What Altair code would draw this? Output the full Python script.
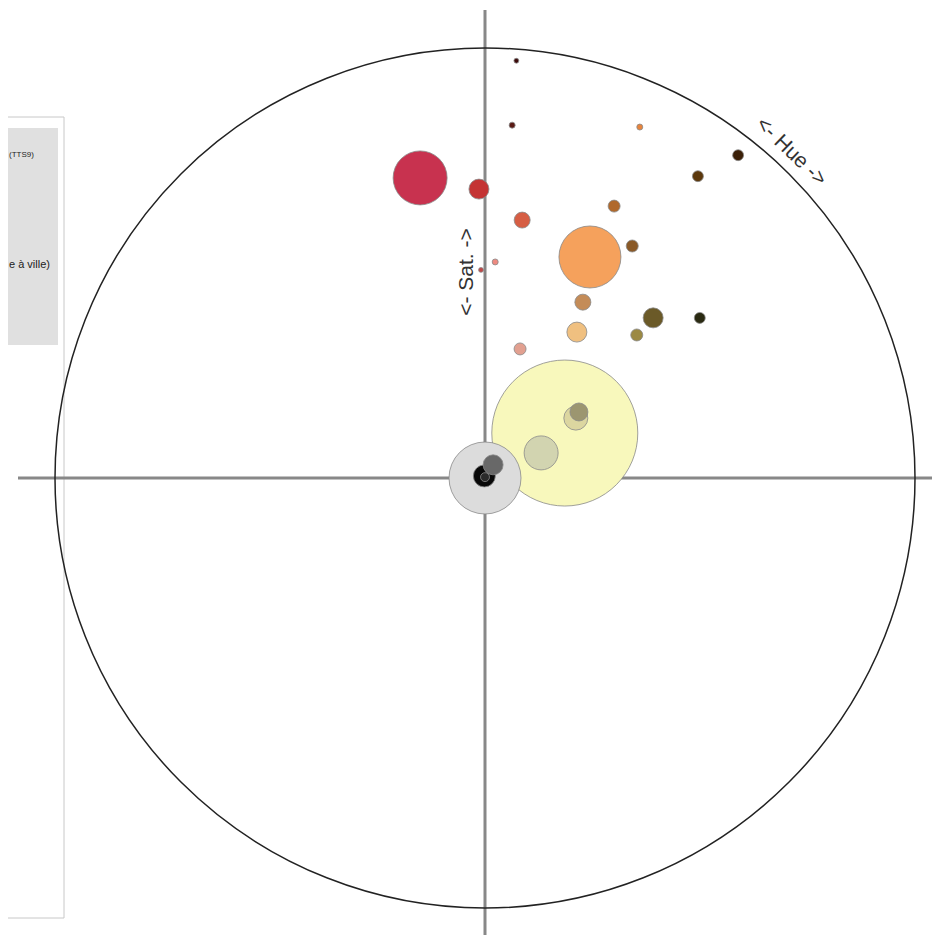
import altair as alt
import numpy as np
import pandas as pd

# ---- data: hue (deg, 0 = top, clockwise), saturation (0..1), count, colour ----
hue = [4.3, 4.4, 23.8, 347.8, 358.8, 38.1, 35.2, 25.4, 8.2, 32.4, 25.4, 2.7, 358.9,
       29.1, 46.4, 53.3, 32.2, 46.7, 15.2, 60.6, 56.6, 54.9, 65.9, 0.0, 31.6, 342.0, 0.0]
sat = [0.973, 0.823, 0.892, 0.714, 0.672, 0.954, 0.859, 0.700, 0.606, 0.639, 0.569, 0.503, 0.484,
       0.468, 0.540, 0.623, 0.401, 0.485, 0.311, 0.213, 0.253, 0.267, 0.143, 0.0, 0.036, 0.005, 0.002]
count = [6, 9, 9, 729, 100, 30, 30, 36, 64, 36, 961, 9, 6,
         64, 100, 30, 100, 36, 36, 5329, 144, 81, 289, 1296, 100, 121, 20]
colors = ["#3c0a0a", "#5a1a14", "#e8843c", "#c8324f", "#c43434", "#3c2008", "#5c380c",
          "#b0692c", "#d65e44", "#8a5a28", "#f5a15c", "#ee8a80", "#c04848", "#c48c58",
          "#6b5a28", "#2a2a12", "#f0c080", "#9c8a44", "#e2a090", "#f8f8bc", "#dcd6a0",
          "#9c9670", "#d2d4b0", "#dcdcdc", "#686868", "#080808", "#2a2a2a"]

legend_texts = ["(TTS9)", "e à ville)"]
axis_labels = ["<- Hue ->", "<- Sat. ->"]

df = pd.DataFrame({"hue": hue, "sat": sat, "count": count, "color": colors})
rad = np.deg2rad(df["hue"])
df["x"] = df["sat"] * np.sin(rad)
df["y"] = df["sat"] * np.cos(rad)
df = df.sort_values("count", ascending=False, kind="stable").reset_index(drop=True)
df["order"] = np.arange(len(df))

W, H = 924, 927
CX, CY, R = 477, 470, 430
xs = alt.Scale(domain=[-CX / R, (W - CX) / R], nice=False, zero=False)
ys = alt.Scale(domain=[-(H - CY) / R, CY / R], nice=False, zero=False)

dummy = pd.DataFrame({"a": [0]})
base = alt.Chart(dummy)

FONT = "Liberation Sans"

panel = base.mark_rect(fill="white", stroke="#c8c8c8", strokeWidth=1).encode(
    x=alt.value(-10), x2=alt.value(56), y=alt.value(109), y2=alt.value(910))
inner = base.mark_rect(fill="#e0e0e0").encode(
    x=alt.value(-10), x2=alt.value(50), y=alt.value(120), y2=alt.value(337))
t1 = base.mark_text(align="left", baseline="middle", fontSize=8, font=FONT, color="#222").encode(
    x=alt.value(1), y=alt.value(147), text=alt.value(legend_texts[0]))
t2 = base.mark_text(align="left", baseline="middle", fontSize=11, font=FONT, color="#222").encode(
    x=alt.value(1), y=alt.value(257), text=alt.value(legend_texts[1]))

hline = base.mark_rule(color="#888888", strokeWidth=3).encode(
    x=alt.value(10), x2=alt.value(W), y=alt.value(CY))
vline = base.mark_rule(color="#888888", strokeWidth=3).encode(
    x=alt.value(CX), y=alt.value(2), y2=alt.value(H))

ring = base.mark_point(shape="circle", filled=False, size=(2 * R) ** 2, stroke="#222222",
                       strokeWidth=1.5, opacity=1).encode(x=alt.value(CX), y=alt.value(CY))

bubbles = alt.Chart(df).mark_circle(stroke="#8a8a8a", strokeWidth=1, opacity=1, strokeOpacity=0.8).encode(
    x=alt.X("x:Q", scale=xs, axis=None),
    y=alt.Y("y:Q", scale=ys, axis=None),
    size=alt.Size("count:Q", scale=alt.Scale(type="linear", domain=[0, 1332.25], range=[0, 5329]),
                  legend=None),
    color=alt.Color("color:N", scale=None),
    order=alt.Order("order:Q"),
)

hue_lbl = base.mark_text(align="center", baseline="middle", fontSize=21, font=FONT, color="#333",
                         angle=44).encode(x=alt.value(783), y=alt.value(144), text=alt.value(axis_labels[0]))
sat_lbl = base.mark_text(align="center", baseline="middle", fontSize=21, font=FONT, color="#333",
                         angle=270).encode(x=alt.value(459), y=alt.value(264), text=alt.value(axis_labels[1]))

chart = alt.layer(panel, inner, t1, t2, hline, vline, ring, bubbles, hue_lbl, sat_lbl).properties(
    width=W, height=H, padding=0, autosize="none", background="white"
).configure_view(strokeWidth=0)

chart.save("out.html", embed_options={"renderer": "svg", "actions": False})
